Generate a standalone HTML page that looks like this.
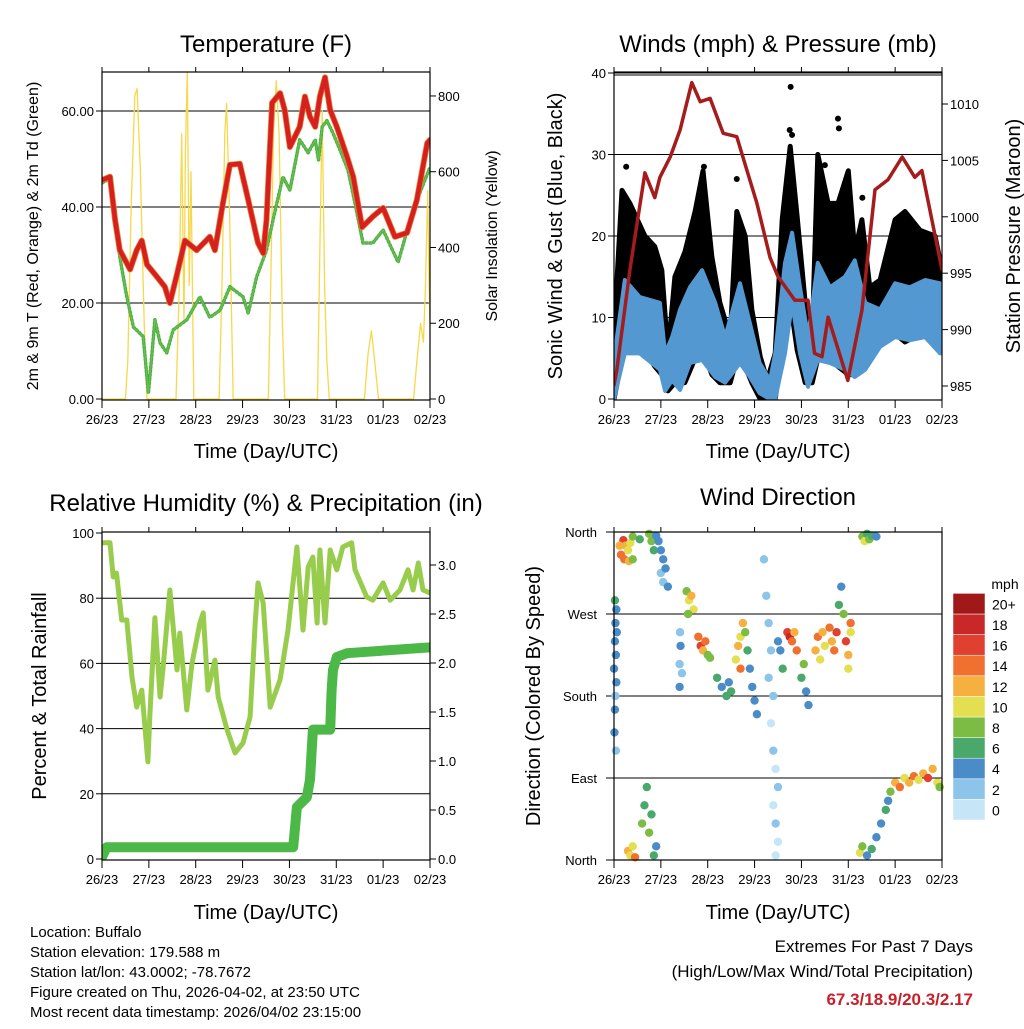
<!DOCTYPE html>
<html><head><meta charset="utf-8"><style>
body{margin:0;background:#fff;width:1024px;height:1024px;overflow:hidden}
svg{font-family:"Liberation Sans",sans-serif}
</style></head><body>
<svg id="c" width="1024" height="1024" xmlns="http://www.w3.org/2000/svg">
<defs>
<clipPath id="cp1"><rect x="102" y="72" width="328" height="328"/></clipPath>
<clipPath id="cp2"><rect x="614" y="72" width="328" height="328"/></clipPath>
<clipPath id="cp3"><rect x="102" y="532" width="328" height="328"/></clipPath>
</defs>
<g font-size="24" text-anchor="middle" fill="#000">
<text x="266" y="52">Temperature (F)</text>
<text x="778" y="52">Winds (mph) &amp; Pressure (mb)</text>
<text x="266" y="511">Relative Humidity (%) &amp; Precipitation (in)</text>
<text x="778" y="505">Wind Direction</text>
</g>
<g font-size="20" text-anchor="middle">
<text x="266" y="458">Time (Day/UTC)</text>
<text x="778" y="458">Time (Day/UTC)</text>
<text x="266" y="919">Time (Day/UTC)</text>
<text x="778" y="919">Time (Day/UTC)</text>
<text transform="translate(562,236) rotate(-90)">Sonic Wind &amp; Gust (Blue, Black)</text>
<text transform="translate(1020,236) rotate(-90)">Station Pressure (Maroon)</text>
<text transform="translate(46,696) rotate(-90)">Percent &amp; Total Rainfall</text>
<text transform="translate(540,696) rotate(-90)">Direction (Colored By Speed)</text>
</g>
<g font-size="16" text-anchor="middle">
<text transform="translate(38,236) rotate(-90)">2m &amp; 9m T (Red, Orange) &amp; 2m Td (Green)</text>
<text transform="translate(497,236) rotate(-90)">Solar Insolation (Yellow)</text>
</g>
<g font-size="15">
<text x="30" y="937">Location: Buffalo</text>
<text x="30" y="957">Station elevation: 179.588 m</text>
<text x="30" y="977">Station lat/lon: 43.0002; -78.7672</text>
<text x="30" y="997">Figure created on Thu, 2026-04-02, at 23:50 UTC</text>
<text x="30" y="1017">Most recent data timestamp: 2026/04/02 23:15:00</text>
</g>
<g font-size="17" text-anchor="end">
<text x="973" y="952">Extremes For Past 7 Days</text>
<text x="973" y="977">(High/Low/Max Wind/Total Precipitation)</text>
<text x="973" y="1005" fill="#c8202a" font-weight="bold">67.3/18.9/20.3/2.17</text>
</g>
</svg>
<script>
const dayLabels=['26/23','27/23','28/23','29/23','30/23','31/23','01/23','02/23'];
const tempDays=[0,0.17,0.28,0.38,0.6,0.74,0.85,0.96,1.17,1.34,1.45,1.6,1.77,2.02,2.3,2.41,2.58,2.73,2.94,3.12,3.33,3.44,3.51,3.63,3.8,3.9,4.01,4.22,4.33,4.44,4.55,4.65,4.76,4.87,5.01,5.23,5.36,5.55,5.78,6.0,6.25,6.51,6.72,6.94,7.0];
const tempVals=[45.6,46.3,37.3,31,27,31,33,28,25.5,23.4,20,26,33,31,33.8,31,40.8,48.8,49,41.5,32.5,30.4,37.3,61.7,63.7,60.2,52.5,56.7,63,58.8,56.7,63,67,60.2,56.7,50.4,46.3,35.8,38,39.8,33.8,34.6,41.5,53.3,54];
const dewDays=[0,0.17,0.28,0.38,0.53,0.67,0.88,0.99,1.06,1.13,1.24,1.38,1.52,1.81,2.09,2.3,2.52,2.73,3.01,3.12,3.3,3.51,3.65,3.86,4.01,4.22,4.4,4.55,4.62,4.7,4.8,4.93,5.08,5.25,5.4,5.57,5.78,6.0,6.32,6.64,7.0];
const dewVals=[45,46,37,29.6,21.3,15,13,1.2,8.8,16.5,11.7,9.6,14.4,16.5,21.3,17,18.5,23.4,21.3,17.9,25.4,31,37.3,46.3,43.5,54,51.3,54,49.8,56.7,58,55.4,51.9,47.7,40.8,32.5,32.5,35.2,28.5,39.4,48.3];
const solarDays=[0,0.5,0.55,0.62,0.7,0.75,0.82,0.9,0.96,1.58,1.65,1.7,1.75,1.78,1.82,1.86,1.9,1.96,2.5,2.56,2.62,2.66,2.72,2.8,3.55,3.6,3.66,3.72,3.78,3.85,3.9,4.6,4.65,4.7,4.75,4.8,4.85,5.6,5.68,5.75,5.82,5.9,6.65,6.72,6.8,6.86,6.9,6.95,6.98,7.0];
const solarVals=[0,0,100,500,800,820,600,200,0,0,300,700,200,650,870,300,600,0,0,300,700,780,500,0,0,300,700,840,700,200,0,0,400,760,300,100,0,0,120,180,100,0,0,100,200,150,280,550,300,200];
const presDays=[0,0.06,0.34,0.66,0.87,0.98,1.2,1.41,1.66,1.84,2.05,2.33,2.62,2.75,3.05,3.33,3.5,3.86,4.14,4.28,4.44,4.57,4.99,5.29,5.57,5.85,6.15,6.42,6.57,7.0];
const presVals=[985.1,986.4,995.3,1003.9,1001.7,1003.5,1005.3,1007.7,1011.9,1010.2,1010.5,1007.4,1007.1,1005.3,1001.2,996.4,994.7,992.6,992.6,987.9,987.6,991.1,985.5,991.7,1002.4,1003.3,1005.3,1003.5,1004.1,995.3];
const windDays=[0,0.23,0.55,0.98,1.09,1.24,1.41,1.62,1.88,2.16,2.37,2.69,2.9,3.11,3.33,3.44,3.65,3.8,3.97,4.14,4.35,4.61,4.93,5.14,5.36,5.68,6.0,6.31,6.64,6.96];
const windHi=[5,14.6,12.5,11.8,5.6,7.6,11,13.7,15.8,11.8,7.6,14.2,9.3,4.4,2.3,5.6,16.7,20.4,13.7,7.6,16.7,13.7,15,17,11.8,11,14.2,13.7,14.6,14.2];
const windLo=[0,5.6,5.6,3.6,1,2.3,1.1,4.4,4.8,2.7,2,4.4,2.7,0.7,0,0,5.6,11.8,5.6,1.5,4.8,4.4,3.6,2.7,3.6,6.4,7.6,7.2,7.6,5.6];
const gustDays=[0,0.17,0.34,0.66,0.87,1.02,1.15,1.3,1.51,1.73,1.9,2.09,2.26,2.48,2.62,2.8,2.94,3.12,3.27,3.44,3.59,3.76,3.91,4.08,4.23,4.35,4.57,4.78,5.0,5.14,5.29,5.46,5.68,6.0,6.21,6.53,6.85,7.0];
const gustHi=[8,25.6,24,20,18.7,15.8,5.6,15,18,23,28,17.4,11.8,7.6,23,20,11,5.2,2.3,5.6,22,31,22.3,11.8,7.6,30,24,24,28,18,22,13.7,14.6,22,23,20.7,20,15.8];
const gustLo=[0,5,8,6,4,3,1,2,2,5,6,3,2,2,5,4,2,0,0,0,6,12,6,2,2,5,5,4,3,3,4,7,8,8,7,8,7,6];
const gustOutDays=[0.26,1.92,2.62,3.77,3.75,3.8,4.78,4.8,4.5,5.3];
const gustOutVals=[28.5,28.5,27,38.3,33,32.4,34.4,33.2,28.7,24.7];
const rhDays=[0,0.17,0.24,0.31,0.42,0.53,0.64,0.74,0.85,0.98,1.02,1.13,1.24,1.3,1.45,1.6,1.66,1.81,1.92,2.09,2.16,2.26,2.41,2.48,2.67,2.84,3.01,3.16,3.27,3.33,3.44,3.59,3.8,3.97,4.16,4.29,4.4,4.5,4.59,4.65,4.76,4.87,5.01,5.14,5.33,5.4,5.65,5.78,6.0,6.15,6.36,6.53,6.64,6.75,6.85,7.0];
const rhVals=[97,97,86.5,87.7,73.3,73.3,55.8,46.6,51.8,29.8,43.6,74,49.7,58,82.5,58,69.3,45.7,60,72.4,75.5,51.8,61,49.7,39.6,32.5,35.6,43.6,72.4,84.7,78.5,46.6,55,70.2,95.7,70.2,89.6,92.6,72.4,94.8,72.4,94.8,88.7,95.7,97,88.7,80.4,79.4,84.7,79.4,82.5,88.7,82.5,90.8,82.5,81.6];
const rainDays=[0,0.1,4.08,4.12,4.16,4.37,4.44,4.5,4.87,4.9,4.93,5.01,5.23,7.0];
const rainVals=[0.02,0.12,0.12,0.33,0.53,0.63,0.81,1.32,1.32,1.72,1.93,2.06,2.1,2.16];
const dirDay=[.2,.25,.3,.15,.35,.4,.22,.32,.4,.12, .02,.05,.03,.06,.02,.04,0,.05,.03,.02,.01,.04, .55,.75,.8,.85,.9,.95,1.0,1.05,1.0,1.05,1.1,1.15, 1.41,1.42,1.4,1.45,1.4, 1.55,1.6,1.65,1.7,1.58, 1.8,1.85,1.9,1.95,2.0,2.05, 2.2,2.3,2.4,2.45,2.5, 2.6,2.65,2.7,2.75,2.7,2.8, 2.85,2.9,2.95,3.0,3.05, 3.2,3.25,3.3,3.35,3.3,3.4,3.35,3.4,3.45,3.5,3.4,3.45,3.5,3.45, 3.55,3.6,3.5, 3.7,3.75,3.8,3.85,3.9, 4.0,4.1,4.15,4.05, 4.3,4.35,4.4,4.45,4.5, 4.6,4.65,4.7,4.75, 4.8,4.85,4.9, 4.95,5.0,5.05,5.0,5.05, 5.3,5.35,5.4,5.45,5.5,5.6, 5.25,5.3,5.4,5.5,5.6,5.7,5.8,5.85,5.9, 6.0,6.1,6.2,6.3,6.4,6.5,6.6,6.7,6.8,6.9,6.95, .3,.35,.4,.45,.6,.65,.7,.75,.8,.9,.85];
const dirDeg=[351,345,340,335,348,355,330,328,330,345, 285,275,260,250,240,225,210,195,180,165,140,120, 352,358,350,340,356,350,340,330,315,305,320,300, 250,235,215,205,190, 295,285,290,275,270, 245,235,230,240,225,222, 200,190,180,195,185, 220,235,245,260,210,250, 230,210,190,175,160, 330,290,260,230,200,180,150,120,100,80,60,40,20,5, 230,210,240, 250,245,240,250,230, 200,185,170,215, 230,245,220,250,235, 255,240,230,250, 280,300,270, 240,225,250,210,260, 355,350,358,352,356,355, 8,15,5,12,25,40,55,65,75, 85,80,90,85,92,88,95,90,100,85,80, 10,5,15,3,40,60,80,30,50,15,5];
const dirSpd=[16,12,10,14,10,8,14,12,8,12, 6,4,4,4,4,4,4,4,2,4,4,2, 6,8,8,6,4,4,4,4,2,2,4,4, 2,4,2,2,4, 8,10,12,10,8, 14,16,12,14,8,8, 6,4,6,4,6, 10,12,10,12,14,8, 6,4,4,4,4, 2,2,2,2,2,2,0,2,0,2,0,2,0,0, 4,6,4, 16,18,14,12,14, 6,4,4,8, 12,14,10,12,10, 14,12,14,16, 6,4,8, 16,12,10,10,14, 8,10,6,8,6,4, 10,8,4,6,4,4,6,4,8, 12,14,10,12,14,10,12,16,12,10,8, 12,10,10,14,8,6,6,8,6,4,6];
const spdColors=['#c6e6f8','#8cc4ea','#4a8cc8','#4aa86a','#7cbc44','#e4df50','#f6b040','#f07030','#e04030','#c82828','#a01818'];
const spdLabels=['0','2','4','6','8','10','12','14','16','18','20+'];
const wdLabels=['North','East','South','West','North'];

const S=document.getElementById('c');const NS='http://www.w3.org/2000/svg';
function mk(t,a){const e=document.createElementNS(NS,t);for(const k in a)e.setAttribute(k,a[k]);S.appendChild(e);return e;}
const P1={x0:102,x1:430,y0:72,y1:400,c:'url(#cp1)'},P2={x0:614,x1:942,y0:72,y1:400,c:'url(#cp2)'},P3={x0:102,x1:430,y0:532,y1:860,c:'url(#cp3)'},P4={x0:614,x1:942,y0:532,y1:860,c:''};
function xd(p,d){return p.x0+d*(p.x1-p.x0)/7;}
const yT=v=>399-v*4.8, yS=v=>399-v*0.3788, yW=v=>399-v*8.15, yP=v=>386-(v-985)*11.28, yR=v=>859-v*3.26, yRain=v=>859-v*98, yD=v=>860-v/360*328;
function pts(p,ds,vs,f){return ds.map((d,i)=>xd(p,d).toFixed(1)+','+f(vs[i]).toFixed(1)).join(' ');}

function frame(p,name,lt,lf,lfmt,rt,rf,rfmt,grid){
  let el;
  grid.forEach(v=>{const y=lf(v);
    el=mk('line',{x1:p.x0,x2:p.x1,y1:y,y2:y,stroke:'#000','stroke-width':1});
    
    });
  for(let i=0;i<=7;i++){const x=xd(p,i);
    el=mk('text',{x:x,y:p.y1+24,'font-size':13,'text-anchor':'middle'});el.textContent=dayLabels[i];
    
    
    el=mk('line',{x1:x,x2:x,y1:p.y1,y2:p.y1+8,stroke:'#000','stroke-width':1});
    
    
    el=mk('line',{x1:x,x2:x,y1:p.y0,y2:p.y0-5,stroke:'#000','stroke-width':1});
    
    }
  lt.forEach(v=>{const y=lf(v);
    el=mk('text',{x:p.x0-8,y:y+5,'font-size':13,'text-anchor':'end'});el.textContent=lfmt(v);
    
    
    el=mk('line',{x1:p.x0-6,x2:p.x0,y1:y,y2:y,stroke:'#000'});
    
    });
  rt.forEach(v=>{const y=rf(v);
    el=mk('text',{x:p.x1+8,y:y+5,'font-size':13,'text-anchor':'start'});el.textContent=rfmt(v);
    
    
    el=mk('line',{x1:p.x1,x2:p.x1+6,y1:y,y2:y,stroke:'#000'});
    
    });
}
function border(p,name){const el=mk('rect',{x:p.x0,y:p.y0,width:p.x1-p.x0,height:p.y1-p.y0,fill:'none',stroke:'#000','stroke-width':1.2});
  
  }
function line(p,ds,vs,f,col,w,name,extra){const a={points:pts(p,ds,vs,f),fill:'none',stroke:col,'stroke-width':w,'stroke-linejoin':'round','stroke-linecap':'round','clip-path':p.c};
  if(extra)for(const k in extra)a[k]=extra[k];
  const el=mk('polyline',a);
  
  return el;}
let e;
// Panel 1
frame(P1,'temp',[0,20,40,60],yT,v=>v.toFixed(2),[0,200,400,600,800],yS,v=>String(v),[20,40,60]);
line(P1,solarDays,solarVals,yS,'#f7d84a',1.3,'solar-insolation-line');
line(P1,dewDays,dewVals,yT,'#4caf3c',3.5,'dewpoint-line',{'stroke-dasharray':'1.5 2.5'});
line(P1,dewDays,dewVals,yT,'#6abf58',1.2,'dewpoint-core-line');
line(P1,tempDays,tempVals,yT,'#f07a28',6,'temp-9m-line');
line(P1,tempDays,tempVals,yT,'#d42020',4.5,'temp-2m-line');
border(P1,'temp');
// Panel 2
frame(P2,'winds',[0,10,20,30,40],yW,v=>String(v),[985,990,995,1000,1005,1010],yP,v=>String(v),[10,20,30,40]);
e=mk('line',{x1:P2.x0,x2:P2.x1,y1:75,y2:75,stroke:'#000'});


function band(p,ds,lo,hi,f,col,sw,name){const up=ds.map((d,i)=>xd(p,d).toFixed(1)+','+f(hi[i]).toFixed(1));
  const dn=ds.map((d,i)=>xd(p,d).toFixed(1)+','+f(lo[i]).toFixed(1)).reverse();
  const el=mk('polygon',{points:up.concat(dn).join(' '),fill:col,stroke:col,'stroke-width':sw,'stroke-linejoin':'round','clip-path':p.c});
  
  }
band(P2,gustDays,gustLo,gustHi,yW,'#000',5,'gust-band');
gustOutDays.forEach((d,i)=>{e=mk('circle',{cx:xd(P2,d),cy:yW(gustOutVals[i]),r:3,fill:'#000'});
  
  });
band(P2,windDays,windLo,windHi,yW,'#5398d0',4,'wind-speed-band');
line(P2,presDays,presVals,yP,'#a51c1c',3.5,'pressure-line');
border(P2,'winds');
// Panel 3
frame(P3,'rh',[0,20,40,60,80,100],yR,v=>String(v),[0,0.5,1,1.5,2,2.5,3],yRain,v=>v.toFixed(1),[20,40,60,80]);
line(P3,rhDays,rhVals,yR,'#98cc4c',5,'relative-humidity-line');
line(P3,rainDays,rainVals,yRain,'#4cb848',10,'precipitation-line');
border(P3,'rh');
// Panel 4
frame(P4,'dir',[],yD,v=>'',[],yD,v=>'',[90,180,270]);
[0,90,180,270,360].forEach((v,i)=>{e=mk('text',{x:P4.x0-17,y:yD(v)+5,'font-size':13,'text-anchor':'end'});e.textContent=wdLabels[i];
  
  
  e=mk('line',{x1:P4.x0-8,x2:P4.x0,y1:yD(v),y2:yD(v),stroke:'#000'});
  
  });
dirDay.forEach((d,i)=>{const ci=Math.min(10,Math.round(dirSpd[i]/2));
  e=mk('circle',{cx:xd(P4,d),cy:yD(dirDeg[i]),r:4.2,fill:spdColors[ci]});
  
  });
border(P4,'dir');
// colorbar
e=mk('text',{x:1005,y:589,'font-size':14,'text-anchor':'middle'});e.textContent='mph';


spdColors.forEach((c,i)=>{const y=820-(i+1)*20.6;
  e=mk('rect',{x:953,y:y,width:32,height:20.6,fill:c,stroke:'#fff','stroke-width':0.5});
  
  
  e=mk('text',{x:992,y:y+16,'font-size':14});e.textContent=spdLabels[i];
  
  });
</script>
</body></html>
